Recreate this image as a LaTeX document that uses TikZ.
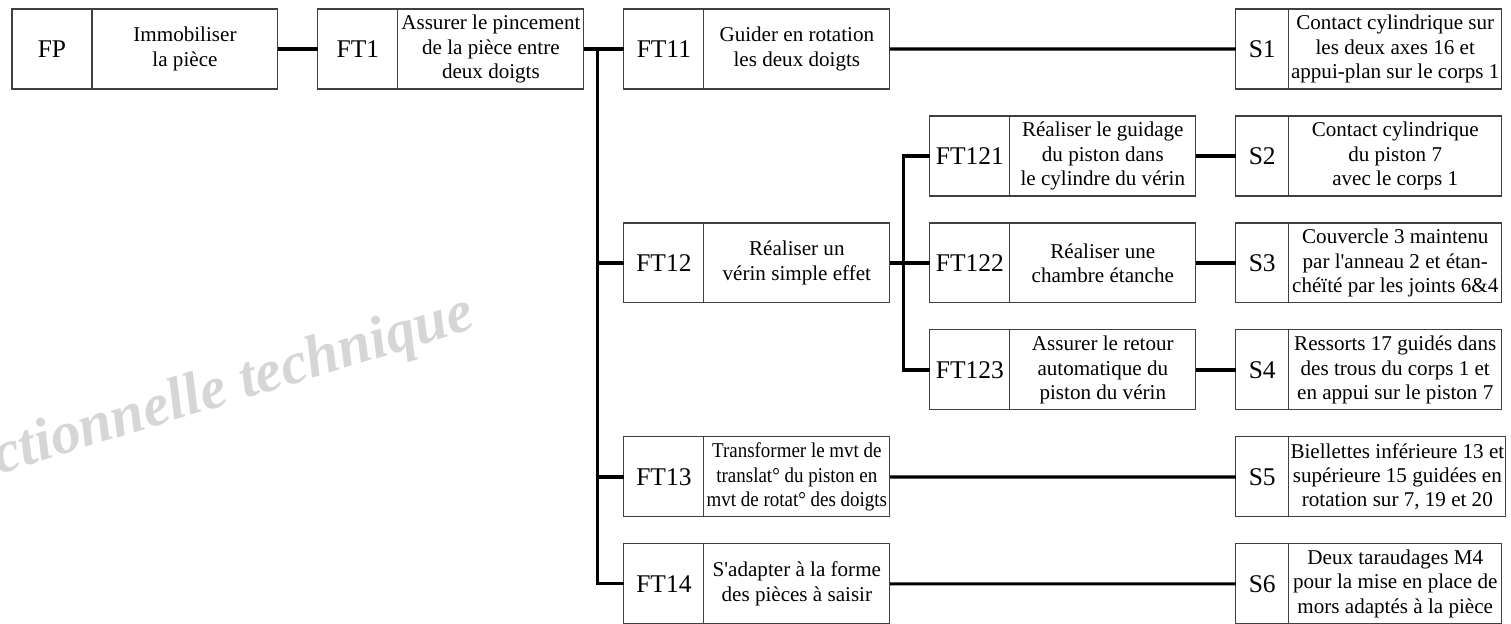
\documentclass[tikz,border=0pt]{standalone}
\usepackage{fontspec}
\setmainfont{Liberation Serif}
\newfontfamily\condfont{Liberation Serif}[FakeStretch=0.9]
\usepackage{tikz}
\usetikzlibrary{positioning,calc}
\newcommand{\apos}{\textquotesingle}

\begin{document}
\begin{tikzpicture}[
    x=0.02cm, y=-0.02cm,
    fcode/.style={draw=black!75, line width=0.6pt, minimum width=1.6cm, minimum height=1.6cm, inner sep=0pt, outer sep=0pt, font=\fontsize{14.5}{16}\selectfont},
    ftext/.style={draw=black!75, line width=0.6pt, minimum width=3.72cm, minimum height=1.6cm, inner sep=1pt, outer sep=0pt, align=center, font=\fontsize{12}{13.8}\selectfont},
    scode/.style={fcode, minimum width=1.06cm},
    stext/.style={ftext, minimum width=4.26cm},
    link/.style={line width=1.8pt},
    wmark/.style={anchor=base east, rotate=17, inner sep=0pt, text=black!16, font=\bfseries\itshape\fontsize{34}{40}\selectfont},
    node distance=0.54cm and 0.8cm,
]
\useasboundingbox (0,0) rectangle (1511,623);
\node[wmark] (wm) at (477,328) {ctionnelle technique};

\node[fcode] (fp) at (52,49) {FP};
\node[ftext, right=0pt of fp] (fpd) {Immobiliser\\la pièce};
\node[fcode, right=of fpd] (ft1) {FT1};
\node[ftext, right=0pt of ft1] (ft1d) {Assurer le pincement\\de la pièce entre\\deux doigts};

\node[fcode, right=of ft1d] (ft11) {FT11};
\node[ftext, right=0pt of ft11] (ft11d) {Guider en rotation\\les deux doigts};
\node[fcode, below=2.68cm of ft11] (ft12) {FT12};
\node[ftext, right=0pt of ft12] (ft12d) {Réaliser un\\vérin simple effet};
\node[fcode, below=2.68cm of ft12] (ft13) {FT13};
\node[ftext, right=0pt of ft13, font=\condfont\fontsize{12}{13.8}\selectfont] (ft13d) {Transformer le mvt de\\translat° du piston en\\mvt de rotat° des doigts};
\node[fcode, below=of ft13] (ft14) {FT14};
\node[ftext, right=0pt of ft14] (ft14d) {S\apos adapter à la forme\\des pièces à saisir};

\node[fcode, right=of ft12d] (ft122) {FT122};
\node[ftext, right=0pt of ft122] (ft122d) {Réaliser une\\chambre étanche};
\node[fcode, above=of ft122] (ft121) {FT121};
\node[ftext, right=0pt of ft121] (ft121d) {Réaliser le guidage\\du piston dans\\le cylindre du vérin};
\node[fcode, below=of ft122] (ft123) {FT123};
\node[ftext, right=0pt of ft123] (ft123d) {Assurer le retour\\automatique du\\piston du vérin};

\node[scode, right=of ft121d] (s2) {S2};
\node[stext, right=0pt of s2] (s2d) {Contact cylindrique\\du piston 7\\avec le corps 1};
\node[scode, above=of s2] (s1) {S1};
\node[stext, right=0pt of s1] (s1d) {Contact cylindrique sur\\les deux axes 16 et\\appui-plan sur le corps 1};
\node[scode, right=of ft122d] (s3) {S3};
\node[stext, right=0pt of s3] (s3d) {Couvercle 3 maintenu\\par l\apos anneau 2 et étan-\\chéïté par les joints 6\&4};
\node[scode, right=of ft123d] (s4) {S4};
\node[stext, right=0pt of s4] (s4d) {Ressorts 17 guidés dans\\des trous du corps 1 et\\en appui sur le piston 7};
\node[scode, below=of s4] (s5) {S5};
\node[stext, right=0pt of s5] (s5d) {Biellettes inférieure 13 et\\supérieure 15 guidées en\\rotation sur 7, 19 et 20};
\node[scode, below=of s5] (s6) {S6};
\node[stext, right=0pt of s6] (s6d) {Deux taraudages M4\\pour la mise en place de\\mors adaptés à la pièce};

\draw[link] (fpd) -- (ft1);
\draw[link] (ft1d) -- (ft11);
\draw[link] (ft11d) -- (s1);
\coordinate (jft1) at ($(ft1d.east)+(0.28cm,0)$);
\draw[link] (jft1) |- (ft12);
\draw[link] (jft1) |- (ft13);
\draw[link] (jft1) |- (ft14);
\draw[link] (ft12d) -- (ft122);
\coordinate (jft12) at ($(ft12d.east)+(0.28cm,0)$);
\draw[link] (jft12) |- (ft121);
\draw[link] (jft12) |- (ft123);
\draw[link] (ft121d) -- (s2);
\draw[link] (ft122d) -- (s3);
\draw[link] (ft123d) -- (s4);
\draw[link] (ft13d) -- (s5);
\draw[link] (ft14d) -- (s6);
\end{tikzpicture}
\end{document}
